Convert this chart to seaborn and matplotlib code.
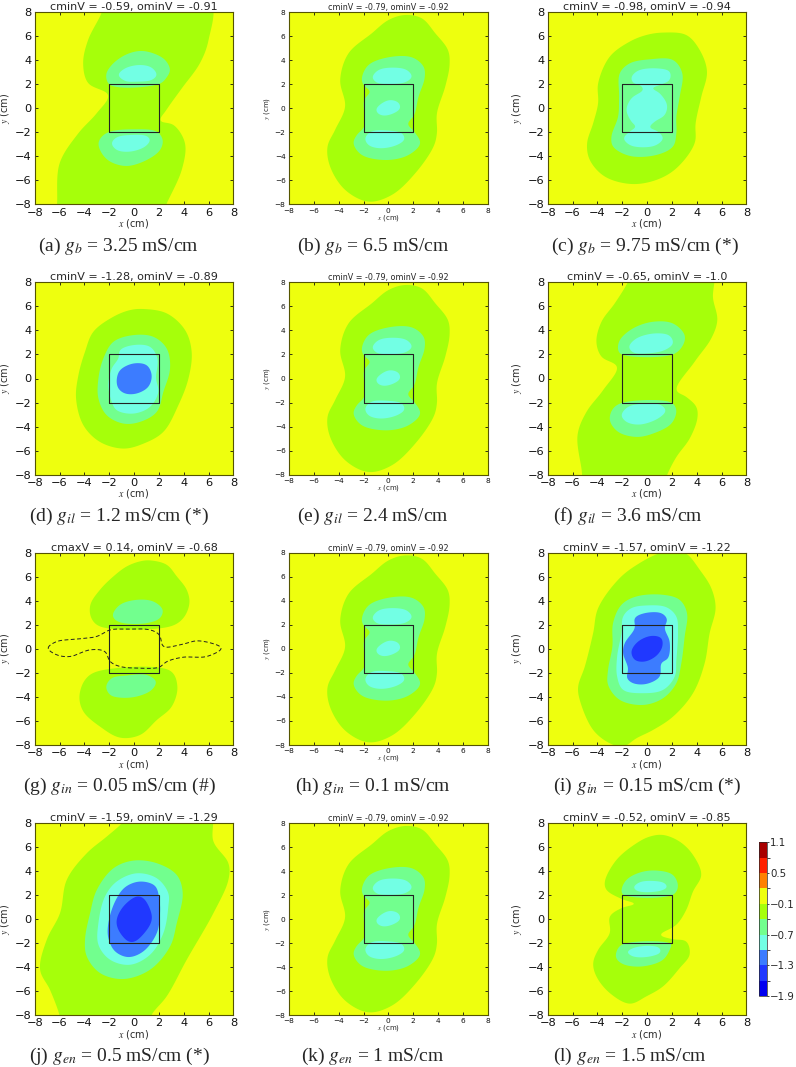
import numpy as np
import pandas as pd
import matplotlib
matplotlib.use("Agg")
import matplotlib.pyplot as plt
from matplotlib.colors import ListedColormap, BoundaryNorm
from matplotlib.cm import ScalarMappable
import seaborn as sns

sns.set_style("ticks")
plt.rcParams['font.family'] = ['DejaVu Sans']
plt.rcParams['mathtext.fontset'] = 'stix'

# ---------- data: contour outlines (x, y in cm) ----------
A_GREEN = [(6.1,9),(6.0,5.7),(5.3,3.75),(3.85,1.67),(2.6,-.14),(2.1,-1.03),(3.2,-1.4),(4.1,-2.9),(3.85,-5.1),(2.6,-8),(2.2,-9),(-6.3,-9),(-6.2,-8),(-6.0,-4.6),(-4.5,-2.1),(-3.0,-.4),(-2.07,1.1),(-3.7,2.1),(-4.1,3.75),(-3.7,5.7),(-2.6,8),(-2.4,9)]
A_MINT_U = [(-1.93,1.94),(2.04,2.03),(2.63,2.58),(2.9,3.2),(2.5,4.03),(1.56,4.58),(.48,4.78),(-.72,4.44),(-1.8,3.61),(-2.25,2.78)]
A_CYAN_U = [(-1.26,2.78),(-.72,3.33),(.48,3.61),(1.42,3.39),(1.83,2.78),(1.42,2.36),(.21,2.22),(-.72,2.28)]
A_MINT_L = [(-2.87,-2.92),(-2.6,-2.36),(-1.93,-1.94),(-.05,-1.75),(1.83,-1.94),(2.31,-2.64),(2.1,-3.47),(1.02,-4.31),(-.59,-4.81),(-1.93,-4.44),(-2.6,-3.75)]
A_CYAN_L = [(-1.8,-2.92),(-1.4,-2.42),(-.19,-2.22),(1.02,-2.31),(1.29,-2.64),(.89,-3.19),(-.32,-3.61),(-1.4,-3.47)]

B_GREEN = [(1.36,7.78),(2.7,7.5),(3.78,6.25),(4.8,4.86),(4.93,3.61),(4.58,1.81),(3.91,-.42),(3.91,-2.08),(3.64,-3.19),(2.16,-5.42),(.28,-7.22),(-1.6,-7.78),(-3.48,-6.8),(-4.69,-4.86),(-4.9,-3.19),(-4.29,-1.8),(-3.48,.14),(-3.88,2.36),(-3.21,4.58),(-1.33,6.25),(.01,7.36)]
B_MINT = [(-2.14,2.5),(-1.6,3.61),(0,4.25),(1.9,4.25),(2.84,3.47),(2.92,2.5),(2.43,.97),(2.08,-.56),(1.57,-1.31),(2.08,-1.94),(2.57,-2.92),(1.63,-3.89),(-.12,-4.31),(-2.14,-3.89),(-2.81,-2.92),(-2.54,-2.22),(-1.95,-1.53),(-1.95,.69),(-1.47,1.39),(-2.0,1.94)]
B_CYAN_U = [(-1.28,2.58),(-.79,3.19),(.42,3.39),(1.49,3.19),(1.9,2.64),(1.36,2.17),(.01,2.03),(-.93,2.14)]
B_CYAN_M = [(-.98,-.08),(-.52,.42),(.15,.69),(.82,.47),(.95,0),(.42,-.42),(-.39,-.61),(-.85,-.42)]
B_CYAN_L = [(-1.87,-2.5),(-1.38,-1.94),(.01,-1.86),(1.09,-2.08),(1.3,-2.58),(.69,-3.06),(-.66,-3.33),(-1.6,-3.06)]

C_GREEN = [(1.29,6.31),(3.16,6.11),(4.24,4.86),(4.83,3.06),(4.37,.97),(3.91,-1.25),(3.83,-2.92),(2.36,-5.0),(.75,-5.97),(-1.26,-6.31),(-3.4,-5.69),(-4.61,-4.31),(-4.83,-2.92),(-4.34,-1.25),(-3.94,.42),(-3.94,2.08),(-3,4.31),(-1.39,5.56),(-.05,6.11)]
C_MINT = [(-2.2,2.92),(-1.39,3.75),(.21,4.08),(2.09,4.03),(2.84,2.92),(2.63,.97),(2.36,-.69),(2.36,-2.08),(2.09,-3.19),(.75,-3.89),(-1.39,-3.97),(-2.74,-3.19),(-2.87,-2.36),(-2.33,-.69),(-2.25,.97)]
C_CYAN = [(-.72,3.14),(.75,3.33),(1.82,3.06),(1.82,2.36),(1.02,1.94),(.43,1.67),(1.02,1.25),(1.61,.28),(1.42,-.56),(.62,-1.11),(.21,-1.58),(.88,-1.94),(1.29,-2.5),(.75,-3.06),(-.32,-3.25),(-1.39,-3.06),(-1.88,-2.5),(-1.39,-1.94),(-.91,-1.53),(-1.26,-1.11),(-1.66,-.14),(-1.26,.83),(-.32,1.53),(-.46,1.86),(-1.13,2.14),(-1.26,2.58)]

D_GREEN = [(.75,5.78),(2.63,5.42),(4.11,4.03),(4.64,2.22),(4.38,0),(3.57,-2.22),(2.36,-4.44),(.75,-5.42),(-.86,-5.83),(-2.74,-5.28),(-4.08,-3.89),(-4.67,-1.67),(-4.48,.28),(-3.95,2.22),(-3.28,3.89),(-1.66,5.14),(-.32,5.69)]
D_MINT = [(-.05,3.61),(1.56,3.47),(2.63,2.5),(2.9,.83),(2.36,-1.11),(1.83,-2.78),(.48,-3.61),(-.86,-3.75),(-2.2,-3.06),(-2.87,-1.67),(-2.87,0),(-2.47,1.67),(-1.66,3.06)]
D_CYAN = [(-1.13,2.36),(-.05,2.78),(1.29,2.64),(1.88,1.67),(1.77,0),(1.96,-1.11),(1.29,-2.36),(-.05,-2.92),(-1.4,-2.64),(-1.8,-1.94),(-2.07,-.56),(-1.8,.83),(-1.26,1.67)]
D_BLUE = [(-1.4,-.14),(-1.13,.69),(-.05,1.25),(1.02,1.11),(1.42,.28),(1.15,-.69),(.21,-1.25),(-.72,-1.25),(-1.26,-.83)]

F_GREEN = [(5.2,9),(5.31,6.67),(5.66,4.86),(5.17,3.33),(3.83,1.39),(2.36,-.97),(3.16,-1.53),(3.97,-2.36),(4.05,-3.33),(3.43,-5),(2.36,-6.53),(1.61,-8.03),(1.3,-9),(-5.3,-9),(-5.23,-8),(-5.6,-4.72),(-4.88,-2.78),(-3.54,-.97),(-2.41,.97),(-3.67,1.81),(-4.08,3.06),(-3.67,4.72),(-2.6,6.25),(-1.53,8.05),(-1.2,9)]
F_MINT_U = [(-2.33,2.36),(-2.2,3.19),(-1.13,4.17),(.48,4.72),(2.09,4.58),(3.03,3.61),(2.9,2.78),(2.09,2.0),(-2.06,2.0)]
F_CYAN_U = [(-1.45,2.64),(-.86,3.33),(.62,3.75),(1.82,3.56),(2.09,2.92),(1.42,2.36),(-.05,2.08),(-1.13,2.17)]
F_MINT_L = [(-3,-3.47),(-2.74,-2.5),(-1.93,-2.0),(1.96,-2),(2.36,-2.64),(1.96,-3.75),(.48,-4.58),(-.86,-4.86),(-2.33,-4.44)]
F_CYAN_L = [(-2.06,-3.06),(-1.53,-2.36),(-.05,-2.08),(1.15,-2.22),(1.5,-2.69),(.88,-3.33),(-.59,-3.83),(-1.66,-3.61)]

G_GREEN_U = [(1.29,7.36),(2.63,7.0),(3.44,6.03),(4.24,4.92),(4.46,3.81),(3.97,2.56),(2.9,1.86),(-2.74,1.86),(-3.44,2.56),(-3.52,3.67),(-2.74,4.92),(-1.66,6.03),(-.59,6.86),(.48,7.28)]
G_MINT_U = [(-1.72,2.83),(-1.13,3.67),(.21,4.08),(1.56,3.94),(2.31,3.25),(2.09,2.56),(1.02,2.14),(-.86,2.14),(-1.53,2.42)]
G_GREEN_L = [(2.9,-1.81),(3.49,-3.14),(3.03,-4.81),(1.83,-5.92),(.48,-7.17),(-1.13,-7.39),(-2.74,-6.47),(-4.08,-5.22),(-4.4,-3.97),(-3.95,-2.58),(-3,-1.89)]
G_MINT_L = [(-2.25,-3.14),(-1.8,-2.44),(-.59,-2.22),(1.02,-2.17),(1.77,-2.72),(1.42,-3.42),(.21,-3.97),(-1.13,-4.06),(-1.93,-3.83)]
G_DASH = [(-6.95,.06),(-6.23,.61),(-4.62,.81),(-3.0,1.03),(-1.93,1.58),(-.59,1.64),(1.29,1.58),(2.04,1.17),(2.36,.19),(3.7,.33),(5.18,.67),(7.06,.06),(5.85,-.64),(3.97,-.69),(2.63,-1.06),(2.04,-1.53),(.48,-1.61),(-1.13,-1.47),(-1.93,-1.06),(-2.34,-.22),(-3.54,-.08),(-5.15,-.64),(-6.23,-.5)]

I_GREEN = [(3.16,7.92),(4.24,6.58),(5.17,5.06),(5.52,3.39),(5.04,1.31),(4.64,-1.19),(3.7,-3.69),(2.09,-5.64),(.48,-6.75),(-.86,-7.44),(-1.93,-8.14),(-3,-7.86),(-4.34,-6.75),(-5.42,-4.25),(-5.55,-3.14),(-5.01,-1.47),(-4.34,1.31),(-3.94,3.39),(-2.2,5.89),(-.59,7.14),(1.02,7.97),(2.09,8.2)]
I_MINT = [(-2.06,3.67),(-.86,4.36),(1.29,4.5),(2.63,4.08),(3.22,2.97),(3.03,1.03),(2.76,-1.19),(2.36,-2.86),(1.29,-4.11),(-.32,-4.67),(-2.2,-4.25),(-3.14,-3),(-3.14,-1.75),(-2.79,.19),(-2.74,2.14)]
I_CYAN = [(-1.26,3.39),(-.05,3.61),(1.55,3.47),(2.36,2.69),(2.49,1.31),(2.36,-.92),(2.23,-2.31),(1.29,-3.42),(-.32,-3.69),(-1.93,-3.42),(-2.41,-2.31),(-2.41,-.64),(-2.06,1.31),(-1.93,2.69)]
I_BLUE = [(-.99,2.56),(-.19,2.97),(1.15,2.97),(1.61,2.47),(1.42,1.72),(1.82,.61),(1.69,-.78),(1.15,-1.19),(1.02,-2.31),(-.05,-2.92),(-1.13,-2.86),(-1.61,-2.44),(-1.53,-1.61),(-1.93,-.36),(-1.8,.47),(-.99,1.72)]
I_DEEP = [(-1.26,-.22),(-.72,.61),(.35,1.08),(1.15,.89),(1.23,.19),(.75,-.58),(-.19,-1.06),(-.99,-.92)]

J_GREEN = [(6.1,9),(6.39,6.47),(7.6,4.67),(7.6,3.28),(6.39,.5),(4.24,-3.39),(2.63,-6.44),(1.42,-7.97),(1.1,-9),(-5.8,-9),(-6.01,-7.97),(-6.77,-5.89),(-7.57,-4.22),(-7.03,-1.72),(-5.96,.5),(-5.42,3.28),(-3.81,5.5),(-2.2,6.89),(-.99,8),(-.3,9)]
J_MINT = [(-.05,4.89),(1.83,4.67),(3.44,3.69),(3.92,2.17),(3.44,-.33),(2.9,-2.28),(1.29,-4.22),(-.86,-5),(-2.74,-4.5),(-3.81,-3.11),(-3.95,-1.72),(-3.54,.5),(-3,2.44),(-1.66,4.25)]
J_CYAN = [(.21,3.83),(1.83,3.42),(2.76,2.17),(2.76,1.06),(2.36,-1.17),(1.29,-2.97),(-.32,-3.81),(-1.93,-3.39),(-2.87,-2.14),(-2.87,-.33),(-2.34,1.89),(-1.4,3.14)]
J_BLUE = [(.48,3.14),(1.69,2.78),(2.04,1.61),(2.09,.5),(1.83,-1.17),(.75,-2.69),(-.46,-3.17),(-1.53,-2.69),(-2.07,-1.58),(-2.07,-.33),(-1.53,1.47),(-.72,2.67)]
J_DEEP = [(.21,1.89),(.75,1.75),(1.42,.36),(1.29,-.47),(.08,-1.86),(-.46,-1.86),(-1.26,-.89),(-1.4,-.06),(-.86,1.06)]

L_GREEN = [(1.29,7.03),(2.63,6.47),(3.7,5.36),(4.37,3.69),(3.7,2.31),(3.16,.78),(2.36,-.47),(1.07,-1.31),(2.04,-1.67),(3.16,-1.86),(3.43,-2.97),(2.63,-4.08),(1.29,-5.61),(-.05,-6.44),(-1.39,-7.06),(-3,-6.17),(-4.08,-4.78),(-4.34,-3.67),(-3.94,-2.56),(-3,-1.17),(-3,.22),(-2.06,.92),(-.99,1.28),(-2.01,1.67),(-3.27,2.44),(-3.4,3.14),(-2.47,4.94),(-.86,6.33),(.21,6.89)]
L_MINT_U = [(-2.06,2.44),(-1.66,3.28),(-.59,3.89),(.75,4.06),(2.09,3.69),(2.49,2.72),(2.09,2.03),(-1.93,2.03)]
L_CYAN_U = [(-1.07,2.67),(-.59,3.08),(.48,3.19),(1.42,3.0),(1.61,2.67),(1.15,2.39),(-.19,2.25),(-.86,2.39)]
L_MINT_L = [(-2.52,-2.97),(-2.06,-2.14),(1.96,-2.06),(1.88,-2.42),(1.29,-3.39),(-.32,-3.94),(-1.8,-3.81),(-2.41,-3.39)]
L_CYAN_L = [(-1.58,-2.75),(-1.13,-2.42),(.21,-2.22),(1.02,-2.42),(1.07,-2.78),(.48,-3.06),(-.59,-3.19),(-1.26,-3.06)]

BOX_X = [-2, 2, 2, -2, -2]
BOX_Y = [-2, -2, 2, 2, -2]
TICKS = [-8, -6, -4, -2, 0, 2, 4, 6, 8]

TITLES = ["cminV = -0.59, ominV = -0.91", "cminV = -0.79, ominV = -0.92", "cminV = -0.98, ominV = -0.94",
          "cminV = -1.28, ominV = -0.89", "cminV = -0.79, ominV = -0.92", "cminV = -0.65, ominV = -1.0",
          "cmaxV = 0.14, ominV = -0.68", "cminV = -0.79, ominV = -0.92", "cminV = -1.57, ominV = -1.22",
          "cminV = -1.59, ominV = -1.29", "cminV = -0.79, ominV = -0.92", "cminV = -0.52, ominV = -0.85"]
CAPTIONS = ["(a) $g_b$ = 3.25 mS/cm", "(b) $g_b$ = 6.5 mS/cm", "(c) $g_b$ = 9.75 mS/cm (*)",
            "(d) $g_{il}$ = 1.2 mS/cm (*)", "(e) $g_{il}$ = 2.4 mS/cm", "(f) $g_{il}$ = 3.6 mS/cm",
            "(g) $g_{in}$ = 0.05 mS/cm (#)", "(h) $g_{in}$ = 0.1 mS/cm", "(i) $g_{in}$ = 0.15 mS/cm (*)",
            "(j) $g_{en}$ = 0.5 mS/cm (*)", "(k) $g_{en}$ = 1 mS/cm", "(l) $g_{en}$ = 1.5 mS/cm"]
CAPTION_X = [118.7, 373, 645, 119, 373, 628, 119, 373, 647, 119, 373, 630]

LEVEL_EDGES = [-1.9, -1.6, -1.3, -1.0, -0.7, -0.4, -0.1, 0.2, 0.5, 0.8, 1.1]
LEVEL_COLORS = ["#0000F0", "#2038FF", "#3C7CFF", "#72FFE4", "#72FF8E",
                "#A6FF0A", "#EEFF0E", "#FF8000", "#FF2000", "#A80000"]
CBAR_TICKS = [-1.9, -1.3, -0.7, -0.1, 0.5, 1.1]

palette = sns.color_palette(LEVEL_COLORS)
DEEP, BLUE, CYAN, MINT, GREEN, YELLOW = palette[1], palette[2], palette[3], palette[4], palette[5], palette[6]

BASE = [(GREEN, B_GREEN), (MINT, B_MINT), (CYAN, B_CYAN_U), (CYAN, B_CYAN_M), (CYAN, B_CYAN_L)]
REGIONS = [
    [(GREEN, A_GREEN), (MINT, A_MINT_U), (CYAN, A_CYAN_U), (MINT, A_MINT_L), (CYAN, A_CYAN_L)],
    BASE,
    [(GREEN, C_GREEN), (MINT, C_MINT), (CYAN, C_CYAN)],
    [(GREEN, D_GREEN), (MINT, D_MINT), (CYAN, D_CYAN), (BLUE, D_BLUE)],
    BASE,
    [(GREEN, F_GREEN), (MINT, F_MINT_U), (CYAN, F_CYAN_U), (MINT, F_MINT_L), (CYAN, F_CYAN_L)],
    [(GREEN, G_GREEN_U), (MINT, G_MINT_U), (GREEN, G_GREEN_L), (MINT, G_MINT_L)],
    BASE,
    [(GREEN, I_GREEN), (MINT, I_MINT), (CYAN, I_CYAN), (BLUE, I_BLUE), (DEEP, I_DEEP)],
    [(GREEN, J_GREEN), (MINT, J_MINT), (CYAN, J_CYAN), (BLUE, J_BLUE), (DEEP, J_DEEP)],
    BASE,
    [(GREEN, L_GREEN), (MINT, L_MINT_U), (CYAN, L_CYAN_U), (MINT, L_MINT_L), (CYAN, L_CYAN_L)],
]


def smooth(points, n=16, sigma=0.14):
    """Closed centripetal Catmull-Rom curve through the outline points, lightly rounded."""
    p = np.asarray(points, float)
    m = len(p)
    out = []
    for i in range(m):
        p0, p1, p2, p3 = p[(i - 1) % m], p[i], p[(i + 1) % m], p[(i + 2) % m]
        t0 = 0.0
        t1 = t0 + max(np.linalg.norm(p1 - p0), 1e-6) ** 0.5
        t2 = t1 + max(np.linalg.norm(p2 - p1), 1e-6) ** 0.5
        t3 = t2 + max(np.linalg.norm(p3 - p2), 1e-6) ** 0.5
        t = np.linspace(t1, t2, n, endpoint=False)[:, None]
        a1 = (t1 - t) / (t1 - t0) * p0 + (t - t0) / (t1 - t0) * p1
        a2 = (t2 - t) / (t2 - t1) * p1 + (t - t1) / (t2 - t1) * p2
        a3 = (t3 - t) / (t3 - t2) * p2 + (t - t2) / (t3 - t2) * p3
        b1 = (t2 - t) / (t2 - t0) * a1 + (t - t0) / (t2 - t0) * a2
        b2 = (t3 - t) / (t3 - t1) * a2 + (t - t1) / (t3 - t1) * a3
        out.append((t2 - t) / (t2 - t1) * b1 + (t - t1) / (t2 - t1) * b2)
    c = np.vstack(out)
    # resample evenly along the curve, then a small periodic Gaussian rounding
    closed = np.vstack([c, c[:1]])
    s = np.r_[0, np.cumsum(np.linalg.norm(np.diff(closed, axis=0), axis=1))]
    step = 0.03
    u = np.arange(0, s[-1], step)
    x, y = np.interp(u, s, closed[:, 0]), np.interp(u, s, closed[:, 1])
    k = np.arange(-int(4 * sigma / step), int(4 * sigma / step) + 1) * step
    w = np.exp(-0.5 * (k / sigma) ** 2)
    w /= w.sum()
    pad = len(k)
    xs = np.convolve(np.r_[x[-pad:], x, x[:pad]], w, mode="same")[pad:-pad]
    ys = np.convolve(np.r_[y[-pad:], y, y[:pad]], w, mode="same")[pad:-pad]
    return np.column_stack([xs, ys])


W, H = 796, 1067
fig = plt.figure(figsize=(W / 100, H / 100), dpi=100)
COL_LEFT = [34.7, 289, 547.7]
ROW_TOP = [12.3, 282.3, 552.7, 823.3]
ROW_BOT = [204.3, 474.7, 745, 1015]
AX_W = 198.7
CAPTION_Y = [246, 516.7, 786.7, 1056.7]
YLAB_X = [-0.15, -0.11, -0.155]

for k in range(12):
    r, c = k // 3, k % 3
    small = c == 1
    ax = fig.add_axes([COL_LEFT[c] / W, 1 - ROW_BOT[r] / H, AX_W / W, (ROW_BOT[r] - ROW_TOP[r]) / H])
    ax.set_facecolor(YELLOW)
    for z, (col, pts) in enumerate(REGIONS[k]):
        curve = smooth(pts)
        ax.fill(curve[:, 0], curve[:, 1], color=col, lw=0, zorder=1 + z * 0.01)
    sns.lineplot(x=BOX_X, y=BOX_Y, sort=False, estimator=None, color="#222222", lw=0.8, ax=ax, zorder=3)
    if k == 6:
        curve = smooth(G_DASH)
        curve = np.vstack([curve, curve[:1]])
        frame = pd.DataFrame({"x": curve[:, 0], "y": curve[:, 1]})
        sns.lineplot(data=frame, x="x", y="y", sort=False, estimator=None, color="#222222",
                     lw=0.7, ls=(0, (4, 2.5)), ax=ax, zorder=3)
    ax.set_xlim(-8, 8)
    ax.set_ylim(-8, 8)
    ax.set_xticks(TICKS)
    ax.set_yticks(TICKS)
    tick_fs = 5.3 if small else 8.2
    lab_fs = 5.0 if small else 7.0
    ax.tick_params(direction="in", top=True, right=True, length=2.5, width=0.6,
                   labelsize=tick_fs, pad=2.5, colors="#111111")
    ax.set_xlabel("$x$ (cm)", fontsize=lab_fs)
    ax.set_ylabel("$y$ (cm)", fontsize=lab_fs)
    ax.xaxis.set_label_coords(0.5, -0.07 if small else -0.1)
    ax.xaxis.label.set_va("center")
    ax.yaxis.set_label_coords(YLAB_X[c], 0.5)
    ax.yaxis.label.set_va("center")
    ax.set_title(TITLES[k], fontsize=5.8 if small else 8.0, pad=1.5)
    for s in ax.spines.values():
        s.set_linewidth(0.8)
        s.set_color("#555500")
        s.set_zorder(4)
    fig.text(CAPTION_X[k] / W, 1 - CAPTION_Y[r] / H, CAPTIONS[k], ha="center", va="center",
             fontsize=14, family="Liberation Serif")

cax = fig.add_axes([759 / W, 1 - 996 / H, 7.7 / W, 153.7 / H])
cmap = ListedColormap(LEVEL_COLORS)
norm = BoundaryNorm(LEVEL_EDGES, cmap.N)
cb = fig.colorbar(ScalarMappable(norm=norm, cmap=cmap), cax=cax, ticks=CBAR_TICKS, spacing="proportional")
cb.ax.tick_params(labelsize=7.4, length=1.5, width=0.6, direction="out", pad=1)
cb.outline.set_linewidth(0.5)

fig.savefig("out.png", dpi=100)
